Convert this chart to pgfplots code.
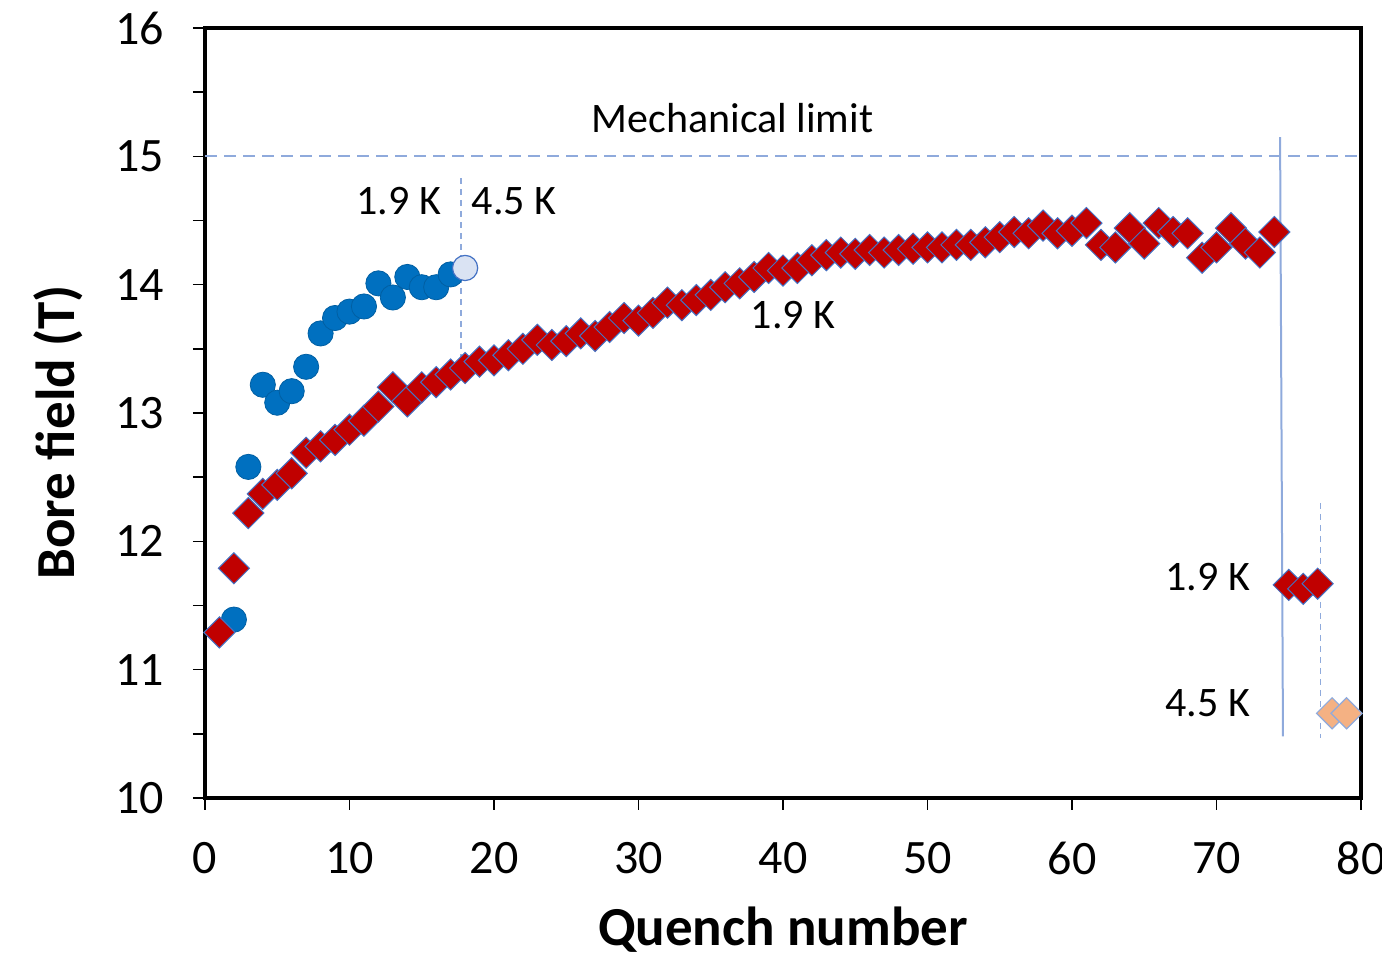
\documentclass[border=0pt]{standalone}
\usepackage{fontspec}
\setmainfont{Carlito}
\usepackage{pgfplots}
\pgfplotsset{compat=1.18}
\definecolor{dred}{HTML}{C00000}
\definecolor{mblue}{HTML}{0070C0}
\definecolor{lblue}{HTML}{DAE3F3}
\definecolor{edgeb}{HTML}{4472C4}
\definecolor{lineb}{HTML}{8FAADC}
\definecolor{orng}{HTML}{F4B183}
\begin{document}
\begin{tikzpicture}
\begin{axis}[
 scale only axis, width=578pt, height=385pt,
 xmin=0, xmax=80, ymin=10, ymax=16,
 xtick={0,10,...,80}, ytick={10,...,16}, minor y tick num=1,
 tick align=outside, xtick pos=bottom, ytick pos=left,
 major tick length=6pt, minor tick length=6pt,
 every tick/.style={black, line width=0.8pt},
 axis line style={line width=2.2pt},
 /pgf/number format/assume math mode=true,
 ticklabel style={font=\fontsize{24}{28}\selectfont},
 xticklabel style={yshift=-12.5pt},
 yticklabel style={xshift=-11pt},
 xlabel={Quench number}, ylabel={Bore field (T)},
 label style={font=\fontsize{27.5}{32}\selectfont\bfseries},
 xlabel style={at={(axis description cs:0.5,-0.171)}, anchor=center},
 ylabel style={at={(axis description cs:-0.127,0.475)}, anchor=center},
]
% reference lines
\addplot[lineb, line width=1.1pt, dash pattern=on 6pt off 3.5pt] coordinates {(0,15) (80,15)};
\addplot[lineb, line width=0.8pt, dash pattern=on 3pt off 2.5pt] coordinates {(17.7,14.83) (17.7,13.42)};
\addplot[lineb, line width=1pt] coordinates {(74.4,15.15) (74.6,10.48)};
\addplot[lineb, line width=0.8pt, dash pattern=on 3pt off 2.5pt] coordinates {(77.2,12.3) (77.2,10.47)};
% blue circles 4.5 K
\addplot[only marks, mark=*, mark size=6.3pt, mark options={fill=mblue, draw=mblue!85!black, line width=0.4pt}] coordinates {
(2,11.39) (3,12.58) (4,13.22) (5,13.08) (6,13.17) (7,13.36) (8,13.62) (9,13.74) (10,13.79) (11,13.83) (12,14.01) (13,13.9) (14,14.06) (15,13.98) (16,13.98) (17,14.08)
};
\addplot[only marks, mark=*, mark size=6.3pt, mark options={fill=lblue, draw=edgeb, line width=0.6pt}] coordinates {(18,14.13)};
% red diamonds 1.9 K
\addplot[only marks, mark=square*, mark size=5.5pt, mark options={rotate=45, fill=dred, draw=edgeb, line width=0.5pt}] coordinates {
(1,11.29) (2,11.79) (3,12.22) (4,12.37) (5,12.44) (6,12.53) (7,12.69) (8,12.74) (9,12.79) (10,12.87)
(11,12.94) (12,13.05) (13,13.20) (14,13.09) (15,13.20) (16,13.24) (17,13.30) (18,13.35) (19,13.40) (20,13.41)
(21,13.45) (22,13.50) (23,13.57) (24,13.53) (25,13.56) (26,13.62) (27,13.60) (28,13.67) (29,13.74) (30,13.72)
(31,13.78) (32,13.86) (33,13.84) (34,13.88) (35,13.92) (36,13.98) (37,14.01) (38,14.06) (39,14.13) (40,14.11)
(41,14.13) (42,14.19) (43,14.23) (44,14.25) (45,14.24) (46,14.27) (47,14.25) (48,14.27) (49,14.28) (50,14.29)
(51,14.29) (52,14.31) (53,14.31) (54,14.33) (55,14.37) (56,14.41) (57,14.40) (58,14.46) (59,14.40) (60,14.42)
(61,14.48) (62,14.31) (63,14.29) (64,14.44) (65,14.32) (66,14.48) (67,14.41) (68,14.40) (69,14.21) (70,14.29)
(71,14.44) (72,14.32) (73,14.25) (74,14.41)
(75,11.66) (76,11.63) (77,11.67)
};
% orange diamonds 4.5 K
\addplot[only marks, mark=square*, mark size=5.5pt, mark options={rotate=45, fill=orng, draw=lineb, line width=0.6pt}] coordinates {(78,10.66) (79,10.66)};
% annotations
\node[font=\fontsize{21}{25}\selectfont, anchor=center] at (axis cs:36.5,15.30) {Mechanical limit};
\node[font=\fontsize{21}{25}\selectfont, anchor=center] at (axis cs:13.4,14.65) {1.9 K};
\node[font=\fontsize{21}{25}\selectfont, anchor=center] at (axis cs:21.4,14.65) {4.5 K};
\node[font=\fontsize{21}{25}\selectfont, anchor=center] at (axis cs:40.7,13.76) {1.9 K};
\node[font=\fontsize{21}{25}\selectfont, anchor=center] at (axis cs:69.4,11.72) {1.9 K};
\node[font=\fontsize{21}{25}\selectfont, anchor=center] at (axis cs:69.4,10.74) {4.5 K};
\end{axis}
\pgfresetboundingbox
\path[use as bounding box] ([xshift=-102.5pt,yshift=-81pt]current axis.south west) rectangle ([xshift=10.5pt,yshift=14pt]current axis.north east);
\end{tikzpicture}
\end{document}
